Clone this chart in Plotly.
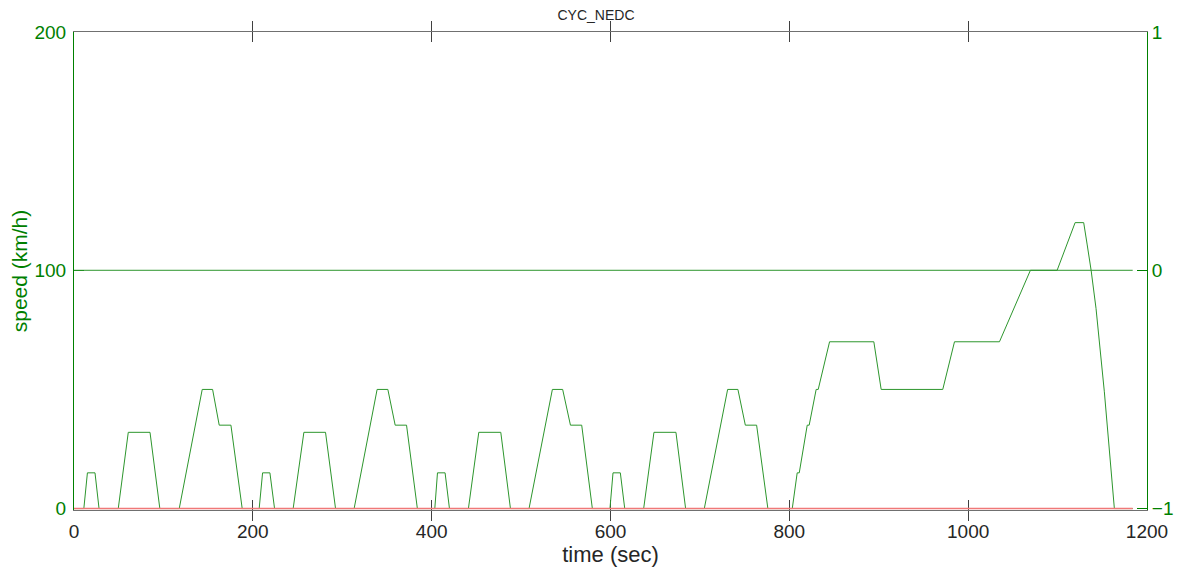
import plotly.graph_objects as go

# ---- data (NEDC driving cycle) ----
time_s = [0, 11, 15, 23.5, 28, 49.5, 60.7, 85, 96, 117.7, 143.4, 155, 162.4, 175.5, 188.1,
          207.1, 210.9, 219.1, 224.3, 245.1, 257.1, 281.3, 292.5, 313.3, 339, 351, 359.2, 371.9, 384,
          403.5, 406.5, 415, 419.9, 441.1, 452.7, 477.3, 488.1, 508.9, 535, 546.5, 555.2, 567.8, 579.7,
          599.4, 602.8, 611, 615.9, 637.1, 648.6, 673.2, 684, 704.9, 731, 742.5, 750.8, 763.4, 776,
          803.3, 808.8, 811.1, 820, 822.2, 830, 832.3, 845, 894.5, 902.7, 971.6, 984.7, 1035,
          1069.6, 1099.5, 1119.6, 1129.2, 1133, 1137.5, 1143, 1152.3, 1163.5, 1184]
speed_kmh = [0, 0, 15, 15, 0, 0, 32, 32, 0, 0, 50, 50, 35, 35, 0,
             0, 15, 15, 0, 0, 32, 32, 0, 0, 50, 50, 35, 35, 0,
             0, 15, 15, 0, 0, 32, 32, 0, 0, 50, 50, 35, 35, 0,
             0, 15, 15, 0, 0, 32, 32, 0, 0, 50, 50, 35, 35, 0,
             0, 15, 15, 35, 35, 50, 50, 70, 70, 50, 50, 70, 70,
             100, 100, 120, 120, 111, 100, 84, 49, 0, 0]

ref_t = [0, 1184]
ref_zero_right = [0, 0]     # right-axis line at 0
ref_red_left = [0, 0]       # red line at 0 km/h

x_ticks = [0, 200, 400, 600, 800, 1000, 1200]
y_left_ticks = [0, 100, 200]
y_right_ticks = [-1, 0, 1]

GREEN = "rgb(0,128,0)"
LINE_GREEN = "rgb(45,150,45)"
FONT = "Liberation Sans, Arial, sans-serif"

W, H = 1176, 564  # page body has an 8px margin

fig = go.Figure()
fig.add_trace(go.Scatter(x=ref_t, y=ref_zero_right, mode="lines", yaxis="y2",
                         line=dict(color=LINE_GREEN, width=1), showlegend=False))
fig.add_trace(go.Scatter(x=time_s, y=speed_kmh, mode="lines",
                         line=dict(color=LINE_GREEN, width=1), showlegend=False))
fig.add_trace(go.Scatter(x=ref_t, y=ref_red_left, mode="lines",
                         line=dict(color="rgb(240,120,120)", width=1.5), showlegend=False))

fig.update_layout(
    width=W, height=H,
    margin=dict(l=66, r=37, t=24, b=62, autoexpand=False),
    paper_bgcolor="white", plot_bgcolor="white",
    font=dict(family=FONT, size=19, color="#262626"),
    title=dict(text="CYC_NEDC", x=0.5, xanchor="center", y=1 - 7 / H, yanchor="middle",
               font=dict(size=14, color="#262626")),
    xaxis=dict(range=[0, 1200], tickvals=x_ticks, showgrid=False, zeroline=False,
               showline=True, linecolor="#707070", linewidth=1, mirror="allticks",
               ticks="inside", ticklen=10, tickcolor="#404040", automargin=False,
               layer="below traces", ticklabelstandoff=4,
               tickfont=dict(size=19, color="#262626"),
               title=dict(text="time (sec)", font=dict(size=22, color="#262626"), standoff=4)),
    yaxis=dict(range=[-0.6, 200], tickvals=y_left_ticks, showgrid=False, zeroline=False,
               showline=True, linecolor=GREEN, linewidth=1, layer="below traces",
               ticks="inside", ticklen=10, tickcolor=GREEN, automargin=False,
               ticklabelstandoff=3,
               tickfont=dict(size=19, color=GREEN),
               title=dict(text="speed (km/h)", font=dict(size=21, color=GREEN), standoff=11)),
    yaxis2=dict(range=[-1.006, 1], tickvals=y_right_ticks, overlaying="y", side="right",
                showgrid=False, zeroline=False, showline=True, linecolor=GREEN, linewidth=1,
                ticks="inside", ticklen=10, tickcolor=GREEN, automargin=False,
                tickfont=dict(size=19, color=GREEN)),
)

fig.write_html("out.html")
